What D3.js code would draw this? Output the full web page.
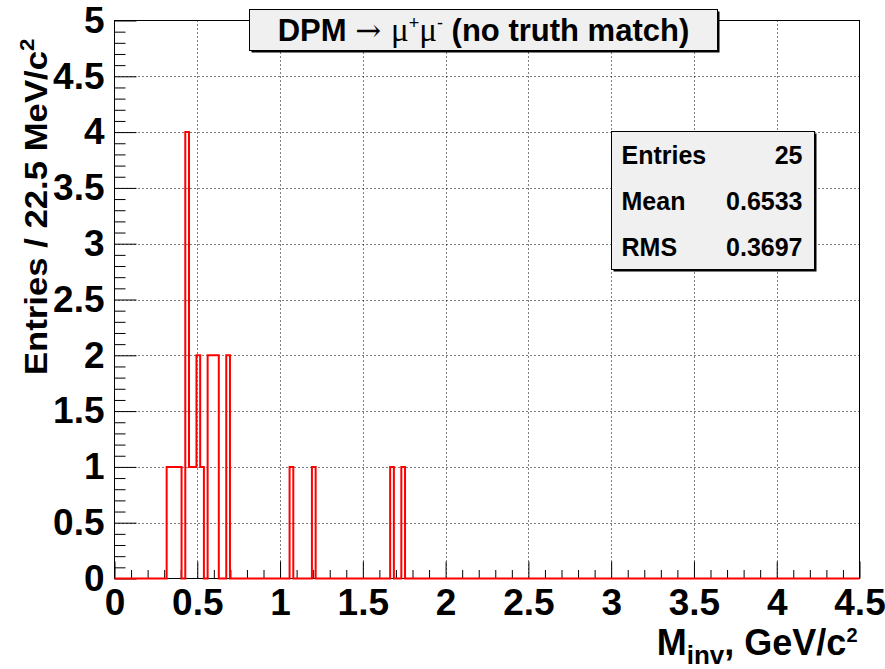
<!DOCTYPE html>
<html>
<head>
<meta charset="utf-8">
<script src="https://cdn.jsdelivr.net/npm/d3@7"></script>
<style>
  html, body { margin: 0; padding: 0; background: #fff; }
  svg { display: block; }
  text { font-family: "Liberation Sans", Arial, Helvetica, sans-serif; font-weight: bold; fill: #000; }
</style>
</head>
<body>
<svg id="chart" width="885" height="669"></svg>
<script>
// Histogram definition: 200 bins of 22.5 MeV/c^2 between 0 and 4.5 GeV/c^2
const nBins = 200;
const xMin = 0;
const xMax = 4.5;

// Lower edges (GeV/c^2) of the non-empty bins and their contents
const filledBinLow = [0.315, 0.3375, 0.36, 0.3825, 0.4275, 0.45, 0.4725, 0.495, 0.5175,
                      0.5625, 0.585, 0.6075, 0.675, 1.0575, 1.1925, 1.665, 1.7325];
const filledCounts = [1, 1, 1, 1, 4, 1, 1, 2, 1, 2, 2, 2, 2, 1, 1, 1, 1];

// Axis ticks
const xMajorTicks = [0, 0.5, 1, 1.5, 2, 2.5, 3, 3.5, 4, 4.5];
const yMajorTicks = [0, 0.5, 1, 1.5, 2, 2.5, 3, 3.5, 4, 4.5, 5];
const yMax = 5;

// Statistics box
const statLabels = ["Entries", "Mean", "RMS"];
const statValues = ["25", "0.6533", "0.3697"];

const svg = d3.select("#chart");

const frame = { left: 114.5, right: 859.5, top: 20.5, bottom: 578.5 };

const x = d3.scaleLinear().domain([xMin, xMax]).range([frame.left, frame.right]);
const y = d3.scaleLinear().domain([0, yMax]).range([frame.bottom, frame.top]);

// Fill the full bin array
const binWidth = (xMax - xMin) / nBins;
const counts = new Array(nBins).fill(0);
filledBinLow.forEach((lo, i) => {
  const k = Math.round((lo - xMin) / binWidth);
  counts[k] += filledCounts[i];
});
const steps = counts.map((c, k) => ({ x: xMin + k * binWidth, y: c }));
steps.push({ x: xMax, y: counts[nBins - 1] });

// Grid (dotted, at major ticks)
const grid = svg.append("g").attr("class", "grid")
  .attr("stroke", "#000").attr("stroke-width", 1).attr("stroke-dasharray", "1,3");
grid.selectAll("line.vx").data(xMajorTicks.filter(v => v > xMin && v < xMax)).join("line")
  .attr("x1", d => Math.round(x(d)) + 0.5).attr("x2", d => Math.round(x(d)) + 0.5)
  .attr("y1", frame.top).attr("y2", frame.bottom);
grid.selectAll("line.hy").data(yMajorTicks.filter(v => v > 0 && v < yMax)).join("line")
  .attr("y1", d => Math.round(y(d)) + 0.5).attr("y2", d => Math.round(y(d)) + 0.5)
  .attr("x1", frame.left).attr("x2", frame.right);

// Frame
svg.append("rect")
  .attr("x", frame.left).attr("y", frame.top)
  .attr("width", frame.right - frame.left).attr("height", frame.bottom - frame.top)
  .attr("fill", "none").attr("stroke", "#000").attr("stroke-width", 1);

// Minor ticks every 0.1
const xMinor = d3.range(0, 46).map(i => i / 10).filter(v => !xMajorTicks.some(m => Math.abs(m - v) < 1e-9));
const yMinor = d3.range(0, 51).map(i => i / 10).filter(v => !yMajorTicks.some(m => Math.abs(m - v) < 1e-9));

const xAxisMinor = d3.axisBottom(x).tickValues(xMinor).tickSize(-8.5).tickSizeOuter(0).tickFormat("");
const xAxis = d3.axisBottom(x).tickValues(xMajorTicks).tickSize(-17).tickSizeOuter(0)
  .tickPadding(10).tickFormat(d3.format("~g"));
const yAxisMinor = d3.axisLeft(y).tickValues(yMinor).tickSize(-11).tickSizeOuter(0).tickFormat("");
const yAxis = d3.axisLeft(y).tickValues(yMajorTicks).tickSize(-22).tickSizeOuter(0)
  .tickPadding(10).tickFormat(d3.format("~g"));

function styleAxis(g) {
  g.select(".domain").remove();
  g.selectAll(".tick line").attr("stroke", "#000").attr("stroke-width", 1);
  g.selectAll(".tick text")
    .attr("font-family", "'Liberation Sans', Arial, sans-serif")
    .attr("font-weight", "bold").attr("font-size", 37).attr("fill", "#000");
}

svg.append("g").attr("transform", `translate(0,${frame.bottom})`).call(xAxisMinor).call(styleAxis);
svg.append("g").attr("transform", `translate(0,${frame.bottom})`).call(xAxis).call(styleAxis);
svg.append("g").attr("transform", `translate(${frame.left},0)`).call(yAxisMinor).call(styleAxis);
svg.append("g").attr("transform", `translate(${frame.left},0)`).call(yAxis).call(styleAxis);

// Histogram outline
const line = d3.line().x(d => x(d.x)).y(d => y(d.y)).curve(d3.curveStepAfter);
svg.append("path")
  .datum(steps)
  .attr("d", line)
  .attr("fill", "none")
  .attr("stroke", "#ff0000")
  .attr("stroke-width", 2);

// Axis titles (narrow bold face: stretched along the reading direction)
const yTitle = svg.append("text")
  .attr("transform", `translate(47,${frame.top + 18}) rotate(-90) scale(1.12,1)`)
  .attr("text-anchor", "end")
  .attr("font-size", 31);
yTitle.append("tspan").text("Entries / 22.5 MeV/c");
yTitle.append("tspan").attr("dy", -13).attr("font-size", 20).text("2");

const xTitle = svg.append("text")
  .attr("x", frame.right - 2).attr("y", 655)
  .attr("text-anchor", "end")
  .attr("font-size", 36);
xTitle.append("tspan").text("M");
xTitle.append("tspan").attr("dy", 9).attr("font-size", 26).text("inv");
xTitle.append("tspan").attr("dy", -9).text(", GeV/c");
xTitle.append("tspan").attr("dy", -13).attr("font-size", 20).text("2");

// Title box
const tb = { x: 249.5, y: 9.5, w: 468, h: 41 };
svg.append("rect").attr("x", tb.x + 2).attr("y", tb.y + 2).attr("width", tb.w).attr("height", tb.h).attr("fill", "#000");
svg.append("rect").attr("x", tb.x).attr("y", tb.y).attr("width", tb.w).attr("height", tb.h)
  .attr("fill", "#f0f0f0").attr("stroke", "#000").attr("stroke-width", 1);
const title = svg.append("text")
  .attr("x", tb.x + tb.w / 2).attr("y", tb.y + 31)
  .attr("text-anchor", "middle")
  .attr("font-size", 31);
title.append("tspan").text("DPM ");
title.append("tspan").attr("font-family", "'DejaVu Serif', 'Liberation Serif', serif").attr("font-weight", "normal").text("\u2192 ");
title.append("tspan").attr("font-family", "'Liberation Serif', 'DejaVu Serif', serif").attr("font-weight", "normal").attr("font-size", 33).text("\u03bc");
title.append("tspan").attr("dy", -12).attr("font-size", 18).attr("font-weight", "normal").text("+");
title.append("tspan").attr("dy", 12).attr("font-family", "'Liberation Serif', 'DejaVu Serif', serif").attr("font-weight", "normal").attr("font-size", 33).text("\u03bc");
title.append("tspan").attr("dy", -12).attr("font-size", 18).attr("font-weight", "normal").text("-");
title.append("tspan").attr("dy", 12).text(" (no truth match)");

// Statistics box
const sb = { x: 611.5, y: 131.5, w: 203, h: 138 };
svg.append("rect").attr("x", sb.x + 2).attr("y", sb.y + 2).attr("width", sb.w).attr("height", sb.h).attr("fill", "#000");
svg.append("rect").attr("x", sb.x).attr("y", sb.y).attr("width", sb.w).attr("height", sb.h)
  .attr("fill", "#f0f0f0").attr("stroke", "#000").attr("stroke-width", 1);
const rowH = sb.h / statLabels.length;
statLabels.forEach((lab, i) => {
  const yy = sb.y + rowH * (i + 0.5) + 9;
  svg.append("text").attr("x", sb.x + 10).attr("y", yy).attr("font-size", 25).text(lab);
  svg.append("text").attr("x", sb.x + sb.w - 12).attr("y", yy).attr("text-anchor", "end")
    .attr("font-size", 25).text(statValues[i]);
});
</script>
</body>
</html>
